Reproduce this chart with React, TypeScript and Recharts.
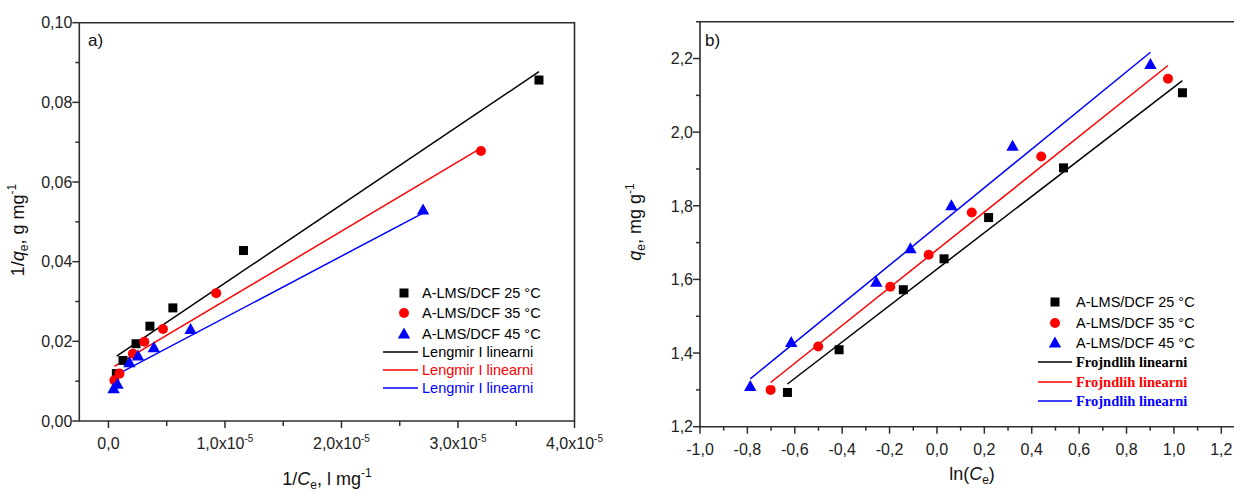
import React from "react";
import { ScatterChart, Scatter, XAxis, YAxis, ReferenceArea } from "recharts";

// a) Langmuir linear form: 1/qe (g/mg) vs 1/Ce (l/mg)
const lang25X = [0.068e-5, 0.125e-5, 0.237e-5, 0.356e-5, 0.553e-5, 1.159e-5, 3.695e-5];
const lang25Y = [0.0119, 0.0152, 0.0194, 0.0238, 0.0284, 0.0428, 0.0856];
const lang35X = [0.051e-5, 0.095e-5, 0.21e-5, 0.308e-5, 0.468e-5, 0.925e-5, 3.197e-5];
const lang35Y = [0.0102, 0.0119, 0.0169, 0.0199, 0.0231, 0.0321, 0.0678];
const lang45X = [0.044e-5, 0.078e-5, 0.18e-5, 0.254e-5, 0.39e-5, 0.705e-5, 2.7e-5];
const lang45Y = [0.0081, 0.0092, 0.0146, 0.0163, 0.0184, 0.023, 0.053];
// fitted straight lines, start and end point
const langFit25 = [[0.07e-5, 0.0163], [3.695e-5, 0.0877]];
const langFit35 = [[0.051e-5, 0.0137], [3.197e-5, 0.0685]];
const langFit45 = [[0.044e-5, 0.0112], [2.7e-5, 0.0522]];

const langXTicks = [0, 0.5e-5, 1e-5, 1.5e-5, 2e-5, 2.5e-5, 3e-5, 3.5e-5, 4e-5];
const langXMajor = [0, 1e-5, 2e-5, 3e-5, 4e-5];
const langYTicks = [0, 0.01, 0.02, 0.03, 0.04, 0.05, 0.06, 0.07, 0.08, 0.09, 0.1];
const langYMajor = [0, 0.02, 0.04, 0.06, 0.08, 0.1];

// b) Freundlich linear form: qe vs ln(Ce)
const fre25X = [-0.631, -0.413, -0.142, 0.03, 0.218, 0.534, 1.036];
const fre25Y = [1.293, 1.409, 1.572, 1.656, 1.768, 1.903, 2.107];
const fre35X = [-0.702, -0.501, -0.197, -0.035, 0.147, 0.44, 0.975];
const fre35Y = [1.3, 1.418, 1.58, 1.667, 1.782, 1.934, 2.145];
const fre45X = [-0.788, -0.615, -0.256, -0.112, 0.061, 0.319, 0.901];
const fre45Y = [1.309, 1.429, 1.592, 1.683, 1.8, 1.962, 2.184];
const freFit25 = [[-0.631, 1.316], [1.036, 2.14]];
const freFit35 = [[-0.702, 1.32], [0.975, 2.181]];
const freFit45 = [[-0.788, 1.33], [0.901, 2.217]];

const freXTicks = [-1.0, -0.9, -0.8, -0.7, -0.6, -0.5, -0.4, -0.3, -0.2, -0.1, 0, 0.1, 0.2, 0.3, 0.4, 0.5, 0.6, 0.7, 0.8, 0.9, 1.0, 1.1, 1.2];
const freXMajor = [-1.0, -0.8, -0.6, -0.4, -0.2, 0, 0.2, 0.4, 0.6, 0.8, 1.0, 1.2];
const freYTicks = [1.2, 1.3, 1.4, 1.5, 1.6, 1.7, 1.8, 1.9, 2.0, 2.1, 2.2, 2.3];
const freYMajor = [1.2, 1.4, 1.6, 1.8, 2.0, 2.2];

const seriesNames = ["A-LMS/DCF 25 °C", "A-LMS/DCF 35 °C", "A-LMS/DCF 45 °C"];
const COLORS = ["#000000", "#ff0000", "#0000ff"];
const AXIS = "#2e2e2e";
const SANS = "'Liberation Sans', Arial, sans-serif";

const zip = (xs: number[], ys: number[]) => xs.map((x, i) => ({ x, y: ys[i] }));
const toPts = (arr: number[][]) => arr.map(([x, y]) => ({ x, y }));
const comma = (v: number, d: number) => v.toFixed(d).replace(".", ",");

const Square = (p: any) => (
    <rect x={p.cx - 4.5} y={p.cy - 4.5} width={9} height={9} fill={COLORS[0]} />
);
const Dot = (p: any) => <circle cx={p.cx} cy={p.cy} r={5} fill={COLORS[1]} />;
const Tri = (p: any) => (
    <polygon
        points={`${p.cx},${p.cy - 6.5} ${p.cx + 6.2},${p.cy + 4.5} ${p.cx - 6.2},${p.cy + 4.5}`}
        fill={COLORS[2]}
    />
);
const NoDot = () => <g />;
const shapes = [Square, Dot, Tri];

const AxisTick = (props: any) => {
    const { x, y, payload, orient, majors, render, minorLen = 4 } = props;
    const v = payload.value;
    const isMajor = majors.some((m: number) => Math.abs(m - v) < 1e-12);
    const len = isMajor ? 7 : minorLen;
    if (orient === "bottom") {
        return (
            <g>
                <line x1={x} y1={y} x2={x} y2={y + len} stroke={AXIS} strokeWidth={1.5} />
                {isMajor && (
                    <text x={x} y={y + 28} textAnchor="middle" fontSize={16} fill="#222" fontFamily={SANS}>
                        {render(v)}
                    </text>
                )}
            </g>
        );
    }
    return (
        <g>
            <line x1={x} y1={y} x2={x - len} y2={y} stroke={AXIS} strokeWidth={1.5} />
            {isMajor && (
                <text x={x - 7} y={y} dy="0.36em" textAnchor="end" fontSize={16} fill="#222" fontFamily={SANS}>
                    {render(v)}
                </text>
            )}
        </g>
    );
};

const langXLabel = (v: number) =>
    v === 0 ? (
        "0,0"
    ) : (
        <>
            <tspan>{comma(v / 1e-5, 1)}x10</tspan>
            <tspan dy={-7} fontSize={10}>-5</tspan>
        </>
    );

const Legend = ({ mx, tx, lx1, lx2, rows, lineText, lineFont }: any) => (
    <g fontFamily={SANS} fontSize={14.5}>
        {seriesNames.map((n, i) => {
            const Shape = shapes[i];
            return (
                <g key={n}>
                    <Shape cx={mx} cy={rows[i]} />
                    <text x={tx} y={rows[i]} dy="0.36em" fill="#000">
                        {n}
                    </text>
                </g>
            );
        })}
        {COLORS.map((c, i) => (
            <g key={c}>
                <line x1={lx1} x2={lx2} y1={rows[3 + i]} y2={rows[3 + i]} stroke={c} strokeWidth={1.6} />
                <text x={tx} y={rows[3 + i]} dy="0.36em" fill={c} style={lineFont}>
                    {lineText}
                </text>
            </g>
        ))}
    </g>
);

const overlay: React.CSSProperties = {
    position: "absolute",
    left: 0,
    top: 0,
    pointerEvents: "none",
    overflow: "visible",
};

const LangmuirPanel = () => (
    <div style={{ position: "absolute", left: 0, top: 0, width: 620, height: 491, overflow: "hidden" }}>
        <ScatterChart width={620} height={491} margin={{ top: 22.7, right: 45.5, bottom: 0, left: 0 }}>
            <XAxis
                type="number"
                dataKey="x"
                domain={[-0.25e-5, 4e-5]}
                ticks={langXTicks}
                interval={0}
                tickSize={0}
                tickMargin={0}
                axisLine={false}
                height={70}
                allowDataOverflow
                tick={<AxisTick orient="bottom" majors={langXMajor} render={langXLabel} minorLen={5} />}
            />
            <YAxis
                type="number"
                dataKey="y"
                domain={[0, 0.1]}
                ticks={langYTicks}
                interval={0}
                tickSize={0}
                tickMargin={0}
                axisLine={false}
                width={79.3}
                allowDataOverflow
                tick={<AxisTick orient="left" majors={langYMajor} render={(v: number) => comma(v, 2)} />}
            />
            <ReferenceArea x1={-0.25e-5} x2={4e-5} y1={0} y2={0.1} fill="none" stroke={AXIS} strokeWidth={1.6} ifOverflow="visible" />
            {[langFit25, langFit35, langFit45].map((f, i) => (
                <Scatter key={"fit" + i} data={toPts(f)} line={{ stroke: COLORS[i], strokeWidth: 1.5 }} shape={NoDot} isAnimationActive={false} />
            ))}
            <Scatter data={zip(lang25X, lang25Y)} shape={Square} isAnimationActive={false} />
            <Scatter data={zip(lang35X, lang35Y)} shape={Dot} isAnimationActive={false} />
            <Scatter data={zip(lang45X, lang45Y)} shape={Tri} isAnimationActive={false} />
        </ScatterChart>
        <svg width={620} height={491} style={overlay}>
            <text x={88} y={46} fontSize={17} fontFamily={SANS} fill="#111">a)</text>
            <text transform="translate(24,230) rotate(-90)" textAnchor="middle" fontSize={18} fontFamily={SANS} fill="#111">
                1/<tspan fontStyle="italic">q</tspan>
                <tspan dy={4} fontSize={12}>e</tspan>
                <tspan dy={-4}>, g mg</tspan>
                <tspan dy={-8} fontSize={12}>-1</tspan>
            </text>
            <text x={327} y={485} textAnchor="middle" fontSize={18} fontFamily={SANS} fill="#111">
                1/<tspan fontStyle="italic">C</tspan>
                <tspan dy={4} fontSize={12}>e</tspan>
                <tspan dy={-4}>, l mg</tspan>
                <tspan dy={-8} fontSize={12}>-1</tspan>
            </text>
            <Legend mx={404} tx={422} lx1={383} lx2={418} rows={[293, 313, 334, 352, 370, 388]} lineText="Lengmir I linearni" lineFont={{}} />
        </svg>
    </div>
);

const FreundlichPanel = () => (
    <div style={{ position: "absolute", left: 620, top: 0, width: 614, height: 491, overflow: "hidden" }}>
        <ScatterChart width={640} height={491} margin={{ top: 21.7, right: 15, bottom: 0, left: 0 }}>
            <XAxis
                type="number"
                dataKey="x"
                domain={[-1.0, 1.3]}
                ticks={freXTicks}
                interval={0}
                tickSize={0}
                tickMargin={0}
                axisLine={false}
                height={64.3}
                allowDataOverflow
                tick={<AxisTick orient="bottom" majors={freXMajor} render={(v: number) => comma(v, 1)} />}
            />
            <YAxis
                type="number"
                dataKey="y"
                domain={[1.2, 2.3]}
                ticks={freYTicks}
                interval={0}
                tickSize={0}
                tickMargin={0}
                axisLine={false}
                width={80}
                allowDataOverflow
                tick={<AxisTick orient="left" majors={freYMajor} render={(v: number) => comma(v, 1)} />}
            />
            <ReferenceArea x1={-1.0} x2={1.3} y1={1.2} y2={2.3} fill="none" stroke={AXIS} strokeWidth={1.6} ifOverflow="visible" />
            {[freFit25, freFit35, freFit45].map((f, i) => (
                <Scatter key={"fit" + i} data={toPts(f)} line={{ stroke: COLORS[i], strokeWidth: 1.5 }} shape={NoDot} isAnimationActive={false} />
            ))}
            <Scatter data={zip(fre25X, fre25Y)} shape={Square} isAnimationActive={false} />
            <Scatter data={zip(fre35X, fre35Y)} shape={Dot} isAnimationActive={false} />
            <Scatter data={zip(fre45X, fre45Y)} shape={Tri} isAnimationActive={false} />
        </ScatterChart>
        <svg width={614} height={491} style={overlay}>
            <text x={85} y={46} fontSize={17} fontFamily={SANS} fill="#111">b)</text>
            <text transform="translate(21,222) rotate(-90)" textAnchor="middle" fontSize={18} fontFamily={SANS} fill="#111">
                <tspan fontStyle="italic">q</tspan>
                <tspan dy={4} fontSize={12}>e</tspan>
                <tspan dy={-4}>, mg g</tspan>
                <tspan dy={-7} fontSize={12}>-1</tspan>
            </text>
            <text x={352} y={480} textAnchor="middle" fontSize={18} fontFamily={SANS} fill="#111">
                ln(<tspan fontStyle="italic">C</tspan>
                <tspan dy={4} fontSize={12}>e</tspan>
                <tspan dy={-4}>)</tspan>
            </text>
            <Legend
                mx={435}
                tx={456}
                lx1={418}
                lx2={452}
                rows={[302, 323, 343, 362, 382, 401]}
                lineText="Frojndlih linearni"
                lineFont={{ fontFamily: "'Liberation Serif', 'Times New Roman', serif", fontWeight: 700 }}
            />
        </svg>
    </div>
);

export default function App() {
    return (
        <div
            style={{
                position: "absolute",
                left: 0,
                top: 0,
                width: 1234,
                height: 491,
                overflow: "hidden",
                background: "#fff",
            }}
        >
            <LangmuirPanel />
            <FreundlichPanel />
        </div>
    );
}
